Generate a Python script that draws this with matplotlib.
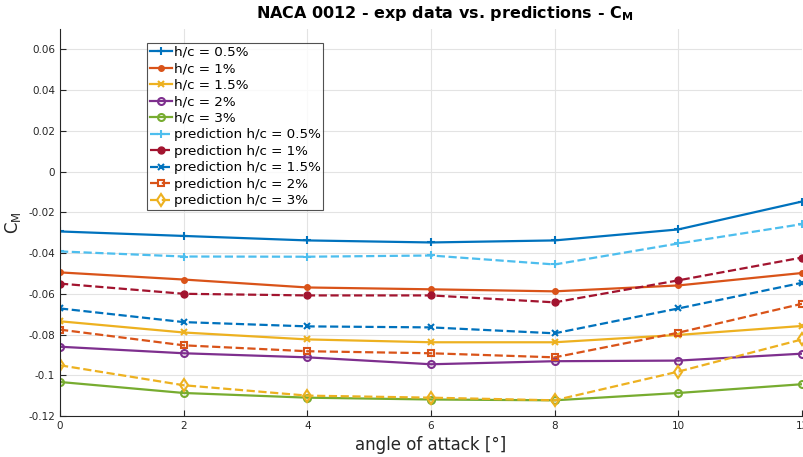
import numpy as np
import matplotlib.pyplot as plt

# angle of attack [deg]
alpha = [0, 2, 4, 6, 8, 10, 12]

# measured moment coefficient, ground distances h/c
cm_exp_05 = [-0.0294, -0.0316, -0.0338, -0.0348, -0.0338, -0.0284, -0.0147]
cm_exp_1 = [-0.0495, -0.0530, -0.0569, -0.0578, -0.0588, -0.0559, -0.0498]
cm_exp_15 = [-0.0735, -0.0790, -0.0824, -0.0838, -0.0838, -0.0802, -0.0758]
cm_exp_2 = [-0.0860, -0.0892, -0.0912, -0.0946, -0.0931, -0.0928, -0.0894]
cm_exp_3 = [-0.1033, -0.1087, -0.1110, -0.1119, -0.1123, -0.1087, -0.1044]

# predicted moment coefficient
cm_pred_05 = [-0.0392, -0.0417, -0.0418, -0.0412, -0.0456, -0.0353, -0.0258]
cm_pred_1 = [-0.0550, -0.0600, -0.0608, -0.0608, -0.0642, -0.0534, -0.0422]
cm_pred_15 = [-0.0672, -0.0739, -0.0760, -0.0765, -0.0794, -0.0672, -0.0546]
cm_pred_2 = [-0.0776, -0.0853, -0.0882, -0.0892, -0.0912, -0.0791, -0.0649]
cm_pred_3 = [-0.0951, -0.1049, -0.1100, -0.1110, -0.1123, -0.0982, -0.0824]

fig = plt.figure(figsize=(8.04, 4.57), dpi=100)
ax = fig.add_axes([60/804, 1-416/457, 742/804, 387/457])

lw = 1.6
ax.plot(alpha, cm_exp_05, '-+', color='#0072BD', lw=lw, ms=6, mew=1.5, label='h/c = 0.5%')
ax.plot(alpha, cm_exp_1, '-o', color='#D95319', lw=lw, ms=4, label='h/c = 1%')
ax.plot(alpha, cm_exp_15, '-x', color='#EDB120', lw=lw, ms=5, mew=1.5, label='h/c = 1.5%')
ax.plot(alpha, cm_exp_2, '-o', color='#7E2F8E', lw=lw, ms=5, mfc='none', mew=1.5, label='h/c = 2%')
ax.plot(alpha, cm_exp_3, '-o', color='#77AC30', lw=lw, ms=5, mfc='none', mew=1.5, label='h/c = 3%')

ax.plot(alpha, cm_pred_05, '--+', color='#4DBEEE', lw=lw, ms=6, mew=1.5, label='prediction h/c = 0.5%')
ax.plot(alpha, cm_pred_1, '--o', color='#A2142F', lw=lw, ms=5, label='prediction h/c = 1%')
ax.plot(alpha, cm_pred_15, '--x', color='#0072BD', lw=lw, ms=5, mew=1.5, label='prediction h/c = 1.5%')
ax.plot(alpha, cm_pred_2, '--s', color='#D95319', lw=lw, ms=5, mfc='none', mew=1.5, label='prediction h/c = 2%')
ax.plot(alpha, cm_pred_3, '--d', color='#EDB120', lw=lw, ms=6, mfc='none', mew=1.5, label='prediction h/c = 3%')

ax.set_xlim(0, 12)
ax.set_ylim(-0.12, 0.07)
ax.set_xticks(alpha)
ax.set_yticks(np.arange(-0.12, 0.061, 0.02))
ax.set_yticklabels(['-0.12', '-0.1', '-0.08', '-0.06', '-0.04', '-0.02', '0', '0.02', '0.04', '0.06'])
ax.tick_params(direction='in', labelsize=7.5, colors='#262626', length=4)
ax.grid(True, color='#e3e3e3', lw=0.8)
ax.set_axisbelow(True)
for s in ['top', 'right']:
    ax.spines[s].set_visible(False)
for s in ['left', 'bottom']:
    ax.spines[s].set_color('#262626')

ax.set_title('NACA 0012 - exp data vs. predictions - C$_\\mathregular{M}$',
             fontsize=11.5, fontweight='bold', pad=8, x=0.518)
ax.set_xlabel('angle of attack [°]', fontsize=12, color='#262626', labelpad=4)
ax.set_ylabel('C$_\\mathregular{M}$', fontsize=12, color='#262626', labelpad=4)

leg = ax.legend(loc='upper left', bbox_to_anchor=(87/742, 1-14/387), fontsize=9.7,
                frameon=True, fancybox=False, edgecolor='#262626', handlelength=1.6,
                handletextpad=0.15, labelspacing=0.26, borderpad=0.22, borderaxespad=0)
leg.get_frame().set_linewidth(0.8)

fig.savefig('out.png', dpi=100)
